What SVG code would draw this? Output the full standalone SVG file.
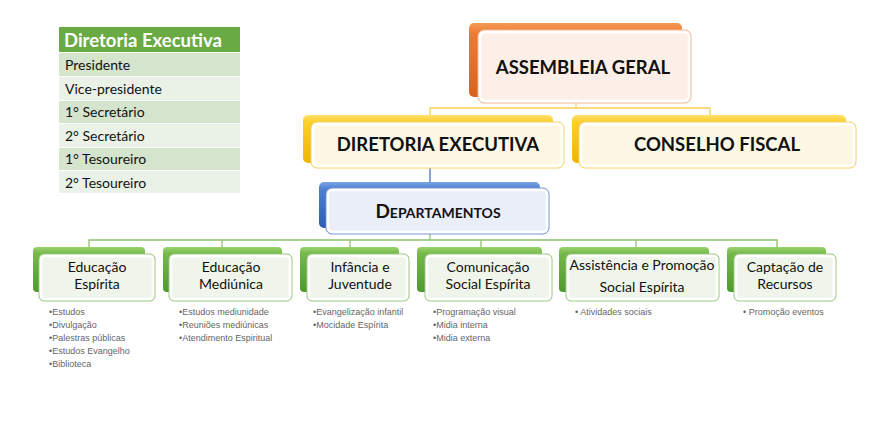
<svg xmlns="http://www.w3.org/2000/svg" width="874" height="439" viewBox="0 0 874 439">
<defs>
<linearGradient id="gO" x1="0" y1="0" x2="0" y2="1"><stop offset="0" stop-color="#f49a55"/><stop offset="0.15" stop-color="#ec7a35"/><stop offset="1" stop-color="#d9621f"/></linearGradient>
<linearGradient id="gY" x1="0" y1="0" x2="0" y2="1"><stop offset="0" stop-color="#ffe06a"/><stop offset="0.15" stop-color="#fccf2a"/><stop offset="1" stop-color="#f0b400"/></linearGradient>
<linearGradient id="gB" x1="0" y1="0" x2="0" y2="1"><stop offset="0" stop-color="#7aa3e3"/><stop offset="0.15" stop-color="#4f80d2"/><stop offset="1" stop-color="#2d5cb0"/></linearGradient>
<linearGradient id="gG" x1="0" y1="0" x2="0" y2="1"><stop offset="0" stop-color="#9ad36e"/><stop offset="0.15" stop-color="#76b84b"/><stop offset="1" stop-color="#4f9a2e"/></linearGradient>
</defs>
<style>
.fO{fill:#fcefe8;stroke:#f0b58f;stroke-width:1}
.fY{fill:#fdf7e4;stroke:#f4d060;stroke-width:1}
.fB{fill:#e9eef8;stroke:#6f8fcf;stroke-width:1}
.fG{fill:#eff5ea;stroke:#97c67a;stroke-width:1}
.in{fill:none;stroke:#ffffff;stroke-width:2.5}
.t1{font-family:Lato,"Open Sans",sans-serif;font-weight:700;font-size:18.5px;fill:#111;text-anchor:middle}
.t2{font-family:Lato,"Open Sans",sans-serif;font-size:14px;fill:#111;text-anchor:middle}
.bl{font-family:"Liberation Sans",Arial,sans-serif;font-size:9px;fill:#666666}
.tb{font-family:Lato,"Open Sans",sans-serif;font-size:14px;fill:#111}
.cY{stroke:#f3cf55;stroke-width:1.3;fill:none}
.cB{stroke:#4a72b8;stroke-width:1.3;fill:none}
.cG{stroke:#8fc070;stroke-width:1.3;fill:none}
</style>
<rect width="874" height="439" fill="#ffffff"/>

<g id="table">
<rect x="59" y="27" width="181" height="25" fill="#6aaa44"/>
<rect x="59" y="53" width="181" height="23" fill="#d5e4cc"/>
<rect x="59" y="77" width="181" height="23" fill="#eaf1e6"/>
<rect x="59" y="101" width="181" height="22" fill="#d5e4cc"/>
<rect x="59" y="124" width="181" height="23" fill="#eaf1e6"/>
<rect x="59" y="148" width="181" height="22" fill="#d5e4cc"/>
<rect x="59" y="171" width="181" height="22" fill="#eaf1e6"/>
<text x="64" y="47" style="font-family:Lato,'Open Sans',sans-serif;font-weight:700;font-size:18.5px;fill:#ffffff">Diretoria Executiva</text>
<text class="tb" x="65" y="70">Presidente</text>
<text class="tb" x="65" y="94">Vice-presidente</text>
<text class="tb" x="65" y="117">1° Secretário</text>
<text class="tb" x="65" y="141">2° Secretário</text>
<text class="tb" x="65" y="164">1° Tesoureiro</text>
<text class="tb" x="65" y="188">2° Tesoureiro</text>
</g>

<g id="connectors">
<polyline class="cY" points="576,103 576,108"/>
<polyline class="cY" points="430,115 430,108 710,108 710,115"/>
<polyline class="cB" points="430,168 430,182"/>
<polyline class="cG" points="430,234 430,240"/>
<polyline class="cG" points="89,247 89,240 777,240 777,247"/>
<polyline class="cG" points="222,240 222,247"/>
<polyline class="cG" points="350,240 350,247"/>
<polyline class="cG" points="481,240 481,247"/>
<polyline class="cG" points="636,240 636,247"/>
</g>

<g id="assembleia">
<rect x="469" y="23" width="213" height="74" rx="5" fill="url(#gO)"/>
<rect x="478" y="30" width="213" height="73" rx="6" class="fO"/>
<rect x="480" y="32" width="209" height="69" rx="5" class="in"/>
<text class="t1" x="583" y="74">ASSEMBLEIA GERAL</text>
</g>

<g id="diretoria">
<rect x="303" y="115" width="250" height="48" rx="5" fill="url(#gY)"/>
<rect x="311" y="122" width="253" height="46" rx="6" class="fY"/>
<rect x="313" y="124" width="249" height="42" rx="5" class="in"/>
<text class="t1" x="438" y="151">DIRETORIA EXECUTIVA</text>
</g>

<g id="conselho">
<rect x="572" y="115" width="274" height="48" rx="5" fill="url(#gY)"/>
<rect x="579" y="122" width="277" height="46" rx="6" class="fY"/>
<rect x="581" y="124" width="273" height="42" rx="5" class="in"/>
<text class="t1" x="717" y="151">CONSELHO FISCAL</text>
</g>

<g id="departamentos">
<rect x="319" y="182" width="221" height="46" rx="5" fill="url(#gB)"/>
<rect x="326" y="188" width="223" height="46" rx="6" class="fB"/>
<rect x="328" y="190" width="219" height="42" rx="5" class="in"/>
<text class="t1" x="438" y="218"><tspan style="font-size:19px">D</tspan><tspan style="font-size:14px">EPARTAMENTOS</tspan></text>
</g>

<g id="educacao-espirita">
<rect x="33" y="247" width="112" height="45" rx="4" fill="url(#gG)"/>
<rect x="39" y="254" width="116" height="47" rx="5" class="fG"/>
<rect x="41" y="256" width="112" height="43" rx="4" class="in"/>
<text class="t2" x="97" y="272">Educação</text>
<text class="t2" x="97" y="289">Espírita</text>
<text class="bl" x="49" y="315">•Estudos</text>
<text class="bl" x="49" y="328">•Divulgação</text>
<text class="bl" x="49" y="341">•Palestras públicas</text>
<text class="bl" x="49" y="354">•Estudos Evangelho</text>
<text class="bl" x="49" y="367">•Biblioteca</text>
</g>

<g id="educacao-mediunica">
<rect x="163" y="247" width="119" height="45" rx="4" fill="url(#gG)"/>
<rect x="169" y="254" width="123" height="47" rx="5" class="fG"/>
<rect x="171" y="256" width="119" height="43" rx="4" class="in"/>
<text class="t2" x="231" y="272">Educação</text>
<text class="t2" x="231" y="289">Mediúnica</text>
<text class="bl" x="179" y="315">•Estudos mediunidade</text>
<text class="bl" x="179" y="328">•Reuniões mediúnicas</text>
<text class="bl" x="179" y="341">•Atendimento Espiritual</text>
</g>

<g id="infancia">
<rect x="300" y="247" width="99" height="45" rx="4" fill="url(#gG)"/>
<rect x="307" y="254" width="102" height="47" rx="5" class="fG"/>
<rect x="309" y="256" width="98" height="43" rx="4" class="in"/>
<text class="t2" x="360" y="272">Infância e</text>
<text class="t2" x="360" y="289">Juventude</text>
<text class="bl" x="313" y="315">•Evangelização infantil</text>
<text class="bl" x="313" y="328">•Mocidade Espírita</text>
</g>

<g id="comunicacao">
<rect x="417" y="247" width="125" height="45" rx="4" fill="url(#gG)"/>
<rect x="425" y="254" width="127" height="47" rx="5" class="fG"/>
<rect x="427" y="256" width="123" height="43" rx="4" class="in"/>
<text class="t2" x="488" y="272">Comunicação</text>
<text class="t2" x="488" y="289">Social Espírita</text>
<text class="bl" x="433" y="315">•Programação visual</text>
<text class="bl" x="433" y="328">•Midia interna</text>
<text class="bl" x="433" y="341">•Midia externa</text>
</g>

<g id="assistencia">
<rect x="559" y="247" width="150" height="45" rx="4" fill="url(#gG)"/>
<rect x="566" y="254" width="153" height="47" rx="5" class="fG"/>
<rect x="568" y="256" width="149" height="43" rx="4" class="in"/>
<text class="t2" x="642" y="270">Assistência e Promoção</text>
<text class="t2" x="642" y="292">Social Espírita</text>
<text class="bl" x="575" y="315">• Atividades sociais</text>
</g>

<g id="captacao">
<rect x="727" y="247" width="99" height="45" rx="4" fill="url(#gG)"/>
<rect x="734" y="254" width="102" height="47" rx="5" class="fG"/>
<rect x="736" y="256" width="98" height="43" rx="4" class="in"/>
<text class="t2" x="785" y="272">Captação de</text>
<text class="t2" x="785" y="289">Recursos</text>
<text class="bl" x="743" y="315">• Promoção eventos</text>
</g>
</svg>
